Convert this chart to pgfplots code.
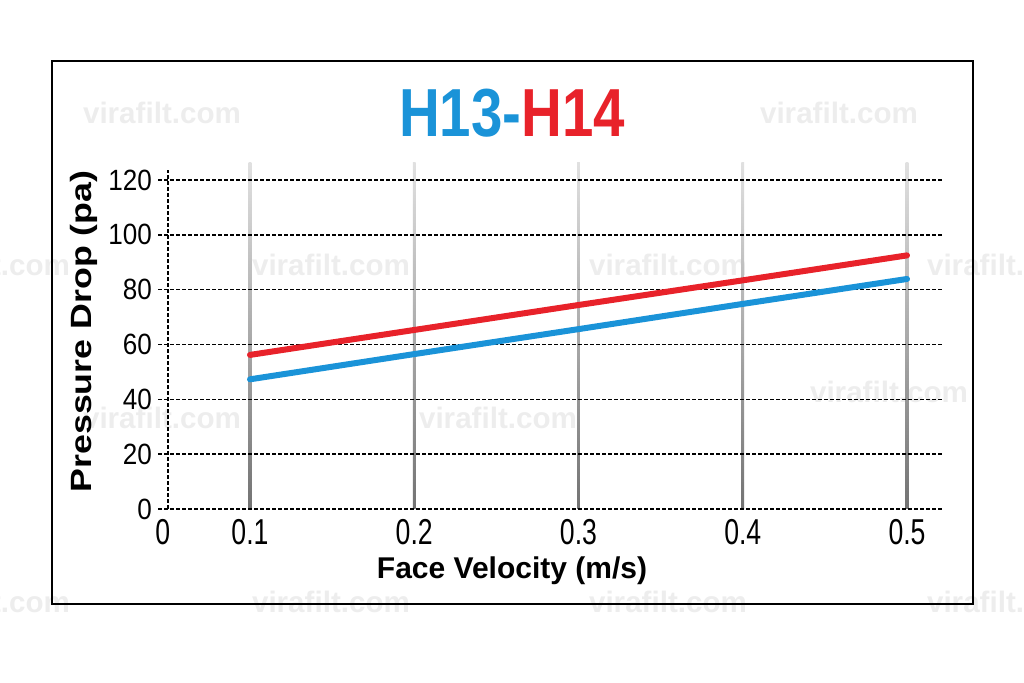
\documentclass[border=0pt]{standalone}
\usepackage{graphicx}
\usepackage{pgfplots}
\pgfplotsset{compat=1.18}
\usepackage{fontspec}
\setmainfont{Liberation Sans}
\definecolor{hblue}{HTML}{1A93D8}
\definecolor{hred}{HTML}{E8222A}
\newcommand\sx[1]{\scalebox{0.74}[1]{\fontsize{36}{36}\selectfont #1}}
\newcommand\sy[1]{\scalebox{0.89}[1]{\fontsize{29.3}{29.3}\selectfont #1}}
\newcommand\wm{\fontsize{29.6}{30}\selectfont\bfseries virafilt.com}
\begin{document}
\begin{tikzpicture}[x=1pt,y=1pt]
\useasboundingbox (0,0) rectangle (1024,682);
\begin{scope}
\clip (0,0) rectangle (1024,682);
\foreach \p in {(162,569),(839,569),(-9,417),(331,417),(668,417),(1006,417),(889,290),(162,264),(498,264),(-9,80),(331,80),(668,80),(1006,80)}
  \node[text=black!7, inner sep=0pt] at \p {\wm};
\end{scope}
\draw[line width=2pt] (52,621.3) rectangle (973,78);
\begin{axis}[
  at={(158pt,173pt)}, anchor=south west, scale only axis,
  width=784pt, height=346pt,
  xmin=0.044, xmax=0.5213, ymin=0, ymax=126.2,
  axis line style={draw=none}, tick style={draw=none}, major tick length=0pt,
  clip=false,
  xtick={0.1,0.2,0.3,0.4,0.5},
  xticklabels={\sx{0.1},\sx{0.2},\sx{0.3},\sx{0.4},\sx{0.5}},
  extra x ticks={0.05}, extra x tick labels={\sx{0}},
  extra x tick style={tick label style={xshift=-5pt}},
  xticklabel style={anchor=north, inner sep=0pt, yshift=-10pt},
  ytick={0,20,40,60,80,100,120},
  yticklabels={\sy{0},\sy{20},\sy{40},\sy{60},\sy{80},\sy{100},\sy{120}},
  yticklabel style={anchor=east, inner sep=0pt, xshift=-6pt},
  xlabel={\fontsize{30}{30}\selectfont\bfseries Face Velocity (m/s)},
  xlabel style={at={(axis description cs:0.4515,-0.2023)}, anchor=base, inner sep=0pt},
  ylabel={\scalebox{1.22}[1]{\fontsize{29.3}{29.3}\selectfont\bfseries Pressure Drop (pa)}},
  ylabel style={at={(axis description cs:-0.0842,0.513)}, anchor=base, inner sep=0pt},
  title={\scalebox{0.83}[1]{\fontsize{68}{68}\selectfont\bfseries\textcolor{hblue}{H13-}\textcolor{hred}{H14}}},
  title style={at={(axis description cs:0.4515,1.0578)}, anchor=base, inner sep=0pt},
]
\pgfplotsinvokeforeach{0.1,0.2,0.3,0.4,0.5}{
  \shade[top color=black!12, bottom color=black!55]
    ([xshift=-1.3pt]axis cs:#1,0) rectangle ([xshift=1.3pt]axis cs:#1,126.2);
}
\pgfplotsinvokeforeach{0,20,40,60,80,100,120}{
  \draw[black, line width=1.5pt, dash pattern=on 4pt off 2pt]
    (axis cs:0.044,#1) -- (axis cs:0.5213,#1);
}
\draw[black, line width=1.5pt, dash pattern=on 4pt off 2pt]
  (axis cs:0.05,0) -- (axis cs:0.05,123.6);
\addplot[hblue, line width=6pt, line cap=round] coordinates {
  (0.1,47.3) (0.2,56.5) (0.3,65.6) (0.4,74.8) (0.5,83.9)};
\addplot[hred, line width=6pt, line cap=round] coordinates {
  (0.1,56.2) (0.2,65.3) (0.3,74.4) (0.4,83.4) (0.5,92.5)};
\end{axis}
\end{tikzpicture}
\end{document}
